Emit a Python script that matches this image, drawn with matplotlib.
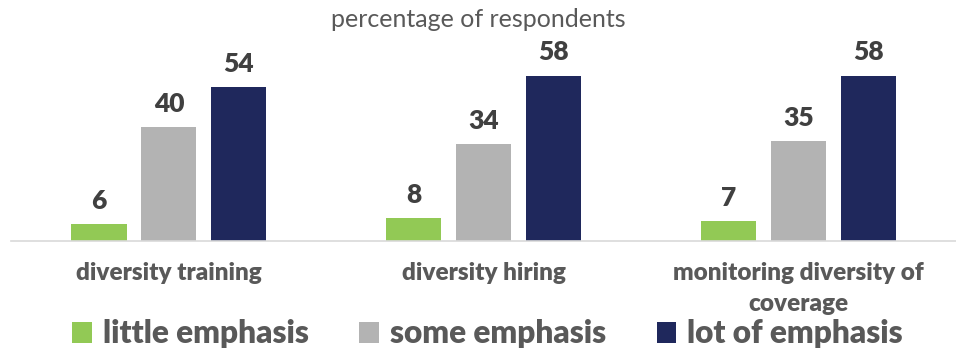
import matplotlib.pyplot as plt
import numpy as np

plt.rcParams['font.family'] = ['Lato', 'DejaVu Sans']

categories = ['diversity training', 'diversity hiring', 'monitoring diversity of\ncoverage']
series = ['little emphasis', 'some emphasis', 'lot of emphasis']
little = [6, 8, 7]
some = [40, 34, 35]
lot = [54, 58, 58]
colors = ['#92c955', '#b3b3b3', '#1f285c']

fig = plt.figure(figsize=(9.56, 3.56), dpi=100)
ax = fig.add_axes([0.012, 0.323, 0.988, 0.56])

x = np.arange(len(categories))
w = 0.175
step = 0.222
for i, (vals, name) in enumerate(zip([little, some, lot], series)):
    bars = ax.bar(x + (i - 1) * step, vals, width=w, color=colors[i], label=name)
    for b, v in zip(bars, vals):
        ax.text(b.get_x() + b.get_width() / 2, v + 4.0, str(v), ha='center', va='bottom',
                fontsize=19, fontweight='heavy', color='#404040')

ax.set_xlim(-0.5, 2.5)
ax.set_ylim(0, 70)
ax.set_yticks([])
ax.set_xticks(x)
ax.set_xticklabels(categories, fontsize=17.5, fontweight='heavy', color='#595959', linespacing=1.5)
ax.tick_params(axis='x', length=0, pad=15)
for s in ['top', 'right', 'left']:
    ax.spines[s].set_visible(False)
ax.spines['bottom'].set_color('#d9d9d9')
ax.spines['bottom'].set_linewidth(1.2)

fig.text(0.5, 0.945, 'percentage of respondents', ha='center', va='center',
         fontsize=18, color='#595959')

leg = fig.legend(loc='center', bbox_to_anchor=(0.51, 0.062), ncol=3, frameon=False,
                 handlelength=0.62, handleheight=0.62, handletextpad=0.35, columnspacing=1.6,
                 prop={'size': 22.8, 'weight': 'heavy'})
for t in leg.get_texts():
    t.set_color('#595959')

fig.savefig('out.png', dpi=100)
